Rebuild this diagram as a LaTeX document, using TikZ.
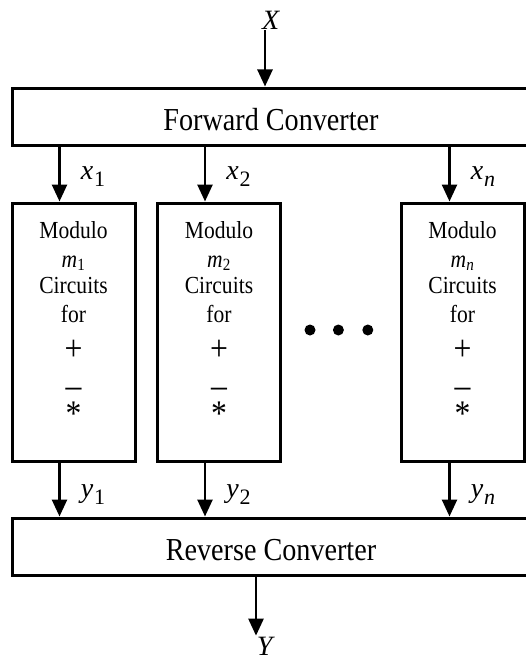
\documentclass[tikz,border=0pt]{standalone}
\usepackage{fontspec}
\setmainfont{Liberation Serif}
\newfontfamily\tall[FakeStretch=0.88]{Liberation Serif}
\usetikzlibrary{arrows.meta, positioning}
\newcommand{\sig}[2]{\textit{#1}\kern1pt\raisebox{-7pt}{\fontsize{22}{22}\selectfont #2}}
\newcommand{\op}[1]{{\fontsize{36}{29}\selectfont #1}}
\newcommand{\ops}{Circuits\\for\\[9pt]\op{+}\\[8pt]\op{–}\\[-1pt]\op{*}\rule[-18pt]{0pt}{1pt}}

\begin{document}
\begin{tikzpicture}[x=1pt, y=-1pt,
    conv/.style={draw, line width=3pt, minimum width=518pt, minimum height=57pt, inner sep=0pt, text height=27pt, text depth=0pt, font=\tall\fontsize{32}{32}\selectfont},
    modbox/.style={draw, line width=3pt, minimum width=123pt, minimum height=258pt, inner sep=0pt, align=center, font=\tall\fontsize{24.5}{29}\selectfont},
    flow/.style={-{Triangle[length=17pt, width=15pt]}, line width=2.6pt},
    lbl/.style={font=\fontsize{28}{28}\selectfont, inner sep=1pt},
    dot/.style={circle, fill, minimum size=11pt, inner sep=0pt}]
    \useasboundingbox (0,0) rectangle (526,661);
    \node[conv] (fwd) at (271,116.5) {Forward Converter};
    \node[conv] (rev) at (271,546.5) {Reverse Converter};
    \node[modbox] (m1) at (73.5,332) {Modulo\\\textit{m}\textsubscript{1}\\[-3pt]\ops};
    \node[modbox] (m2) at (219,332) {Modulo\\\textit{m}\textsubscript{2}\\[-3pt]\ops};
    \node[modbox] (mn) at (462.5,332) {Modulo\\\textit{m}\textsubscript{\textit{n}}\\[-3pt]\ops};
    \node[dot] (d1) at (310,330) {};
    \node[dot, right=17pt of d1] (d2) {};
    \node[dot, right=18pt of d2] (d3) {};
    \node[lbl] (X) at (271,20) {\textit{X}};
    \node[lbl] (Y) at (266,646) {\textit{Y}};
    % input and output
    \draw[flow] ([xshift=-6pt]X.south) -- ([xshift=-6pt]X.south |- fwd.north);
    \draw[flow] ([xshift=-10pt]Y.north |- rev.south) -- ([xshift=-10pt]Y.north);
    % residues in
    \draw[flow] ([xshift=49pt]m1.north west |- fwd.south) -- ([xshift=49pt]m1.north west) node[lbl, pos=0.55, right=19pt] {\sig{x}{1}};
    \draw[flow] ([xshift=49pt]m2.north west |- fwd.south) -- ([xshift=49pt]m2.north west) node[lbl, pos=0.55, right=19pt] {\sig{x}{2}};
    \draw[flow] ([xshift=50pt]mn.north west |- fwd.south) -- ([xshift=50pt]mn.north west) node[lbl, pos=0.55, right=19pt] {\sig{x}{\textit{n}}};
    % residues out
    \draw[flow] ([xshift=49pt]m1.south west) -- ([xshift=49pt]m1.south west |- rev.north) node[lbl, pos=0.6, right=19pt] {\sig{y}{1}};
    \draw[flow] ([xshift=49pt]m2.south west) -- ([xshift=49pt]m2.south west |- rev.north) node[lbl, pos=0.6, right=19pt] {\sig{y}{2}};
    \draw[flow] ([xshift=50pt]mn.south west) -- ([xshift=50pt]mn.south west |- rev.north) node[lbl, pos=0.6, right=19pt] {\sig{y}{\textit{n}}};
\end{tikzpicture}
\end{document}
